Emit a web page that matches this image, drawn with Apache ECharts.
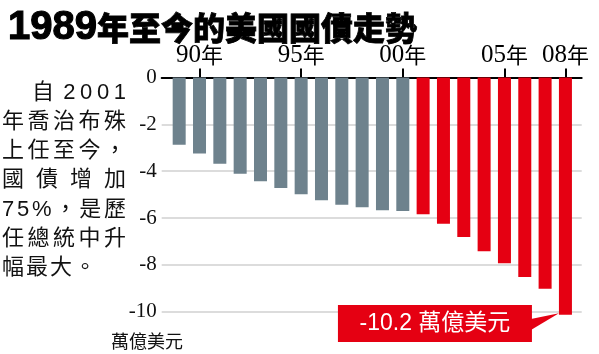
<!DOCTYPE html>
<html><head><meta charset="utf-8">
<script src="https://cdn.jsdelivr.net/npm/echarts@6/dist/echarts.min.js"></script>
<style>html,body{margin:0;padding:0;background:#fff}#c{width:599px;height:354px}</style>
</head><body><div id="c"></div>
<script>
// ---- data ----
const years = [1989,1990,1991,1992,1993,1994,1995,1996,1997,1998,1999,2000,2001,2002,2003,2004,2005,2006,2007,2008];
const grayYears = years.slice(0, 12);
const redYears = years.slice(12);
const debtGray = [-2.87,-3.25,-3.68,-4.11,-4.43,-4.72,-4.99,-5.24,-5.43,-5.54,-5.67,-5.70];
const debtRed = [-5.84,-6.24,-6.81,-7.42,-7.93,-8.52,-9.02,-10.13];
const xTickYears = [1990,1995,2000,2005,2008];
const xTickLabels = ['90','95','00','05','08'];
const yearSuffix = '年';
const titleText = '1989年至今的美國國債走勢';
const noteLines = ['自 2001','年喬治布殊','上任至今，','國 債 增 加','75%，是歷','任總統中升','幅最大。'];
const unitText = '萬億美元';
const calloutText = '-10.2 萬億美元';

const GRAY = '#6e828d', RED = '#e50012';
const CJK = '"Noto Sans CJK TC"';
const chart = echarts.init(document.getElementById('c'), null, {renderer: 'canvas'});

chart.setOption({
  animation: false,
  title: {
    text: '{a|' + titleText.slice(0, 4) + '}{b|' + titleText.slice(4) + '}',
    left: 3, top: 1,
    textStyle: {
      rich: {
        a: {fontFamily: 'Liberation Sans', fontWeight: 'bold', fontSize: 40, color: '#000', lineHeight: 44, verticalAlign: 'middle',
            textBorderColor: '#000', textBorderWidth: 1.2},
        b: {fontFamily: CJK, fontWeight: 900, fontSize: 32, color: '#000', lineHeight: 44, verticalAlign: 'middle',
            textBorderColor: '#000', textBorderWidth: 0.8}
      }
    }
  },
  grid: {left: 161.7, right: 17.3, top: 77.5, bottom: 42.3, containLabel: false},
  xAxis: {
    type: 'value', min: 1988.14, max: 2008.8, position: 'top',
    axisLine: {show: true, onZero: false, lineStyle: {color: '#000', width: 2}},
    axisTick: {show: true, customValues: xTickYears, length: 9, lineStyle: {color: '#000', width: 2}},
    splitLine: {show: false},
    axisLabel: {
      customValues: xTickYears, margin: 10,
      formatter: function (v) {
        const i = xTickYears.indexOf(Math.round(v));
        return '{d|' + xTickLabels[i] + '}{c|' + yearSuffix + '}';
      },
      rich: {
        d: {fontFamily: 'Liberation Sans Narrow', fontSize: 25, color: '#000'},
        c: {fontFamily: CJK, fontSize: 22, color: '#000'}
      }
    }
  },
  yAxis: {
    type: 'value', min: -10, max: 0, interval: 2,
    axisLine: {show: false}, axisTick: {show: false},
    splitLine: {show: true, lineStyle: {color: '#d0d0d0', width: 1.5}},
    axisLabel: {margin: 5, fontSize: 21, color: '#111', fontFamily: 'Liberation Sans Narrow', padding: [7, 0, 0, 0]}
  },
  series: [
    {type: 'bar', clip: false, barWidth: 13, barGap: '-100%', itemStyle: {color: GRAY},
     data: grayYears.map((y, i) => [y, debtGray[i]])},
    {type: 'bar', clip: false, barWidth: 13, barGap: '-100%', itemStyle: {color: RED},
     data: redYears.map((y, i) => [y, debtRed[i]])}
  ]
});

// ---- text layout for the note ----
const ctx = document.createElement('canvas').getContext('2d');
const noteFont = '22px "Liberation Sans", ' + CJK;
ctx.font = noteFont;
const graphics = [];
const lineStart = 92.5, lineStep = 29.3;
noteLines.forEach(function (line, li) {
  const chars = Array.from(line);
  const widths = chars.map(c => c === ' ' ? 0 : ctx.measureText(c).width);
  const sum = widths.reduce((a, b) => a + b, 0);
  const L = li === 0 ? 32 : 2, R = 126;
  const last = li === noteLines.length - 1;
  const gap = last ? 2 : (R - L - sum) / (chars.length - 1);
  let x = L;
  const y = lineStart + li * lineStep;
  chars.forEach(function (c, ci) {
    if (c !== ' ') {
      graphics.push({type: 'text', x: x, y: y, silent: true,
        style: {text: c, font: noteFont, fill: '#111', textAlign: 'left', textVerticalAlign: 'middle'}});
    }
    x += widths[ci] + gap;
  });
});

graphics.push({type: 'text', x: 147, y: 341, silent: true,
  style: {text: unitText, font: '18px ' + CJK, fill: '#111', textAlign: 'center', textVerticalAlign: 'middle'}});

// ---- callout attached to the last bar ----
const lastIdx = redYears.length - 1;
const p = chart.convertToPixel({gridIndex: 0}, [redYears[lastIdx], debtRed[lastIdx]]);
const tx = p[0] - 6.5, ty = p[1];
graphics.push({type: 'polygon', silent: true,
  shape: {points: [[tx - 28, ty + 4.3], [tx, ty - 1.5], [tx - 28, ty + 15.3]]},
  style: {fill: RED}});
graphics.push({type: 'rect', silent: true,
  shape: {x: tx - 221, y: ty - 9.7, width: 194, height: 37},
  style: {fill: RED}});
graphics.push({type: 'text', silent: true, x: tx - 124, y: ty + 8.8,
  style: {text: calloutText, font: '23px "Liberation Sans", ' + CJK, fill: '#fff', textAlign: 'center', textVerticalAlign: 'middle'}});

chart.setOption({graphic: graphics});
</script>
</body></html>
